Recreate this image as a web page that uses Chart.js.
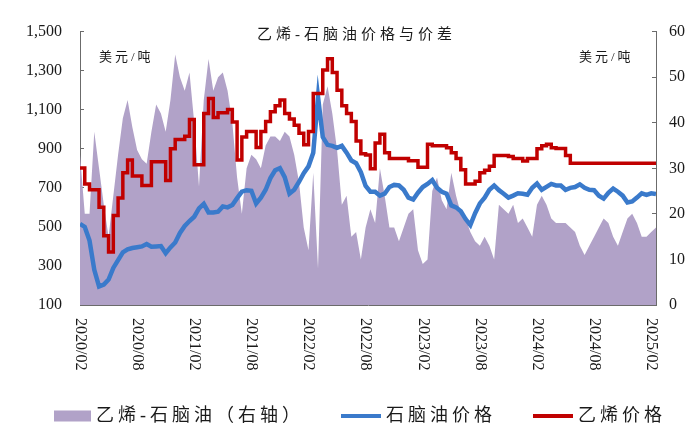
<!DOCTYPE html>
<html>
<head>
<meta charset="utf-8">
<script src="https://cdn.jsdelivr.net/npm/chart.js@4.4.1/dist/chart.umd.min.js"></script>
<style>
  html, body { margin: 0; padding: 0; background: #fff; }
  #wrap { width: 688px; height: 426px; }
</style>
</head>
<body>
<div id="wrap"><canvas id="chart" width="688" height="426"></canvas></div>
<script>
// half-month samples from 2020/02 to 2025/03 (x = months after 2020/02)
const STEP = 0.5;

// 乙烯-石脑油 spread, USD/t (right axis)
const spreadValues = [
  33, 20, 20, 38, 30, 22, 15, 24, 33, 41,
  45, 39, 34, 32, 31, 38, 44, 42, 38, 45,
  55, 50, 47, 51, 40, 26, 45, 54, 47, 50,
  51, 47, 40, 28, 20, 30, 33, 32, 30, 35,
  37, 37, 36, 38, 37, 33, 27, 17, 12, 29,
  8, 44, 48, 42, 34, 22, 24, 15, 16, 10,
  17, 21, 18, 30, 24, 17, 17, 14, 17, 20,
  21, 12, 9, 10, 25, 28, 23, 21, 29, 24,
  20, 19, 16, 14, 13, 15, 13, 10, 22, 21,
  20, 22, 18, 19, 17, 15, 22, 24, 22, 19,
  18, 18, 18, 17, 16, 13, 11, 13, 15, 17,
  19, 18, 15, 13, 16, 19, 20, 18, 15, 15,
  16, 17
];

// 石脑油价格, USD/t (left axis)
const naphthaValues = [
  515, 500, 430, 280, 195, 205, 230, 290, 330, 370,
  385, 392, 396, 400, 412, 398, 400, 402, 365, 395,
  420, 469, 505, 530, 552, 595, 618, 574, 574, 578,
  605, 600, 612, 647, 680, 688, 685, 620, 650, 690,
  750, 790, 801, 755, 670, 690, 730, 775, 810, 880,
  1166, 960, 920, 915, 905, 915, 880, 840, 826, 780,
  710, 680, 680, 660, 670, 704, 715, 712, 690, 650,
  640, 675, 704, 720, 740, 700, 680, 670, 610, 600,
  580, 540, 509, 570, 620, 650, 690, 712, 688, 670,
  650, 660, 672, 670, 665, 700, 722, 690, 705, 720,
  712, 712, 690, 700, 704, 718, 700, 690, 688, 660,
  645, 675, 696, 680, 660, 625, 630, 650, 672, 664,
  672, 668
];

// 乙烯价格, USD/t (left axis)
const ethyleneValues = [
  801, 720, 690, 690, 600, 454, 371, 558, 648, 777,
  842, 761, 761, 712, 712, 834, 834, 834, 737, 900,
  947, 947, 964, 1050, 818, 818, 1080, 1158, 1060, 1085,
  1085, 1101, 1037, 842, 960, 988, 988, 907, 988, 1040,
  1090, 1120, 1150, 1080, 1053, 1020, 980, 920, 988, 1183,
  1183, 1304, 1361, 1290, 1200, 1120, 1080, 1040, 940, 874,
  868, 798, 930, 975, 880, 850, 850, 850, 850, 839,
  839, 806, 806, 923, 915, 915, 915, 905, 880, 850,
  793, 720, 719, 734, 777, 790, 810, 866, 866, 866,
  860, 850, 850, 837, 850, 850, 900, 915, 923, 905,
  902, 902, 866, 826, 826, 826, 826, 826, 826, 826,
  826, 826, 826, 826, 826, 826, 826, 826, 826, 826,
  826, 826
];

const tickMonths = [0, 6, 12, 18, 24, 30, 36, 42, 48, 54, 60];
const tickLabels = ['2020/02', '2020/08', '2021/02', '2021/08', '2022/02', '2022/08',
                    '2023/02', '2023/08', '2024/02', '2024/08', '2025/02'];

const titleText = '乙烯-石脑油价格与价差';
const unitText = '美元/吨';
const seriesNames = ['乙烯-石脑油（右轴）', '石脑油价格', '乙烯价格'];

const PURPLE = '#b1a2c8';
const BLUE = '#3a7acb';
const RED = '#c00000';
const AXIS = '#6b6b6b';
const TEXT = '#1a1a1a';
const SERIF = '"Liberation Serif", "Times New Roman", serif';
const CJK = '"Liberation Serif", "Noto Sans CJK SC", sans-serif';

function toPoints(values) {
  return values.map((v, i) => ({ x: i * STEP, y: v }));
}

// title, unit labels, rotated x labels and legend
const textPlugin = {
  id: 'texts',
  afterDraw(chart) {
    const ctx = chart.ctx;
    const xs = chart.scales.x;
    const area = chart.chartArea;
    ctx.save();
    ctx.fillStyle = TEXT;

    ctx.font = '16px ' + SERIF;
    ctx.textAlign = 'left';
    ctx.textBaseline = 'middle';
    tickMonths.forEach((m, i) => {
      ctx.save();
      ctx.translate(xs.getPixelForValue(m), area.bottom + 13);
      ctx.rotate(Math.PI / 2);
      ctx.fillText(tickLabels[i], 0, 0);
      ctx.restore();
    });

    ctx.letterSpacing = '4px';
    ctx.font = '15px ' + CJK;
    ctx.textAlign = 'left';
    ctx.fillText(titleText, 257, 35);

    ctx.letterSpacing = '3px';
    ctx.font = '13px ' + CJK;
    ctx.fillText(unitText, 99, 58);
    ctx.fillText(unitText, 579, 58);

    // legend
    ctx.letterSpacing = '4px';
    ctx.font = '18px ' + CJK;
    const ly = 416;
    const items = chart.data.datasets.map(ds => ({
      text: ds.label,
      color: ds.legendColor,
      box: ds.fill ? true : false
    }));
    const symW = [37, 40, 40];
    let total = 0;
    items.forEach((it, i) => {
      it.w = ctx.measureText(it.text).width;
      total += symW[i] + 5 + it.w + (i < items.length - 1 ? 37 : 0);
    });
    let x = 360 - total / 2;
    items.forEach((it, i) => {
      if (it.box) {
        ctx.fillStyle = it.color;
        ctx.fillRect(x, ly - 5.5, symW[i], 11);
      } else {
        ctx.strokeStyle = it.color;
        ctx.lineWidth = 4;
        ctx.beginPath();
        ctx.moveTo(x, ly);
        ctx.lineTo(x + symW[i], ly);
        ctx.stroke();
      }
      x += symW[i] + 5;
      ctx.fillStyle = TEXT;
      ctx.fillText(it.text, x, ly);
      x += it.w + 37;
    });
    ctx.restore();
  }
};

new Chart(document.getElementById('chart'), {
  type: 'line',
  data: {
    datasets: [
      {
        label: seriesNames[0],
        data: toPoints(spreadValues),
        yAxisID: 'y1',
        fill: 'origin',
        backgroundColor: PURPLE,
        legendColor: PURPLE,
        borderWidth: 0,
        pointRadius: 0,
        order: 3
      },
      {
        label: seriesNames[1],
        data: toPoints(naphthaValues),
        yAxisID: 'y',
        borderColor: BLUE,
        legendColor: BLUE,
        borderWidth: 4.5,
        pointRadius: 0,
        fill: false,
        order: 2
      },
      {
        label: seriesNames[2],
        data: toPoints(ethyleneValues),
        yAxisID: 'y',
        borderColor: RED,
        legendColor: RED,
        borderWidth: 3.5,
        stepped: 'before',
        pointRadius: 0,
        fill: false,
        order: 1
      }
    ]
  },
  options: {
    responsive: false,
    animation: false,
    layout: { padding: { top: 19, left: 0, right: 0, bottom: 0 } },
    plugins: {
      legend: { display: false },
      tooltip: { enabled: false }
    },
    scales: {
      x: {
        type: 'linear',
        min: 0,
        max: 60.5,
        afterBuildTicks: s => { s.ticks = tickMonths.map(v => ({ value: v })); },
        afterFit: s => { s.height = 121; },
        ticks: { display: false },
        grid: { drawOnChartArea: false, drawTicks: true, tickLength: -4, color: AXIS },
        border: { color: AXIS, width: 1 }
      },
      y: {
        position: 'left',
        min: 100,
        max: 1500,
        afterFit: s => { s.width = 80; },
        ticks: {
          stepSize: 200,
          padding: 22,
          color: TEXT,
          font: { family: SERIF, size: 16 },
          callback: v => v.toLocaleString('en-US')
        },
        grid: { drawOnChartArea: false, drawTicks: true, tickLength: -4, color: AXIS },
        border: { color: AXIS, width: 1 }
      },
      y1: {
        position: 'right',
        min: 0,
        max: 60,
        afterFit: s => { s.width = 32; },
        ticks: {
          stepSize: 10,
          padding: 17,
          color: TEXT,
          font: { family: SERIF, size: 16 }
        },
        grid: { drawOnChartArea: false, drawTicks: true, tickLength: -4, color: AXIS },
        border: { color: AXIS, width: 1 }
      }
    }
  },
  plugins: [textPlugin]
});
</script>
</body>
</html>
